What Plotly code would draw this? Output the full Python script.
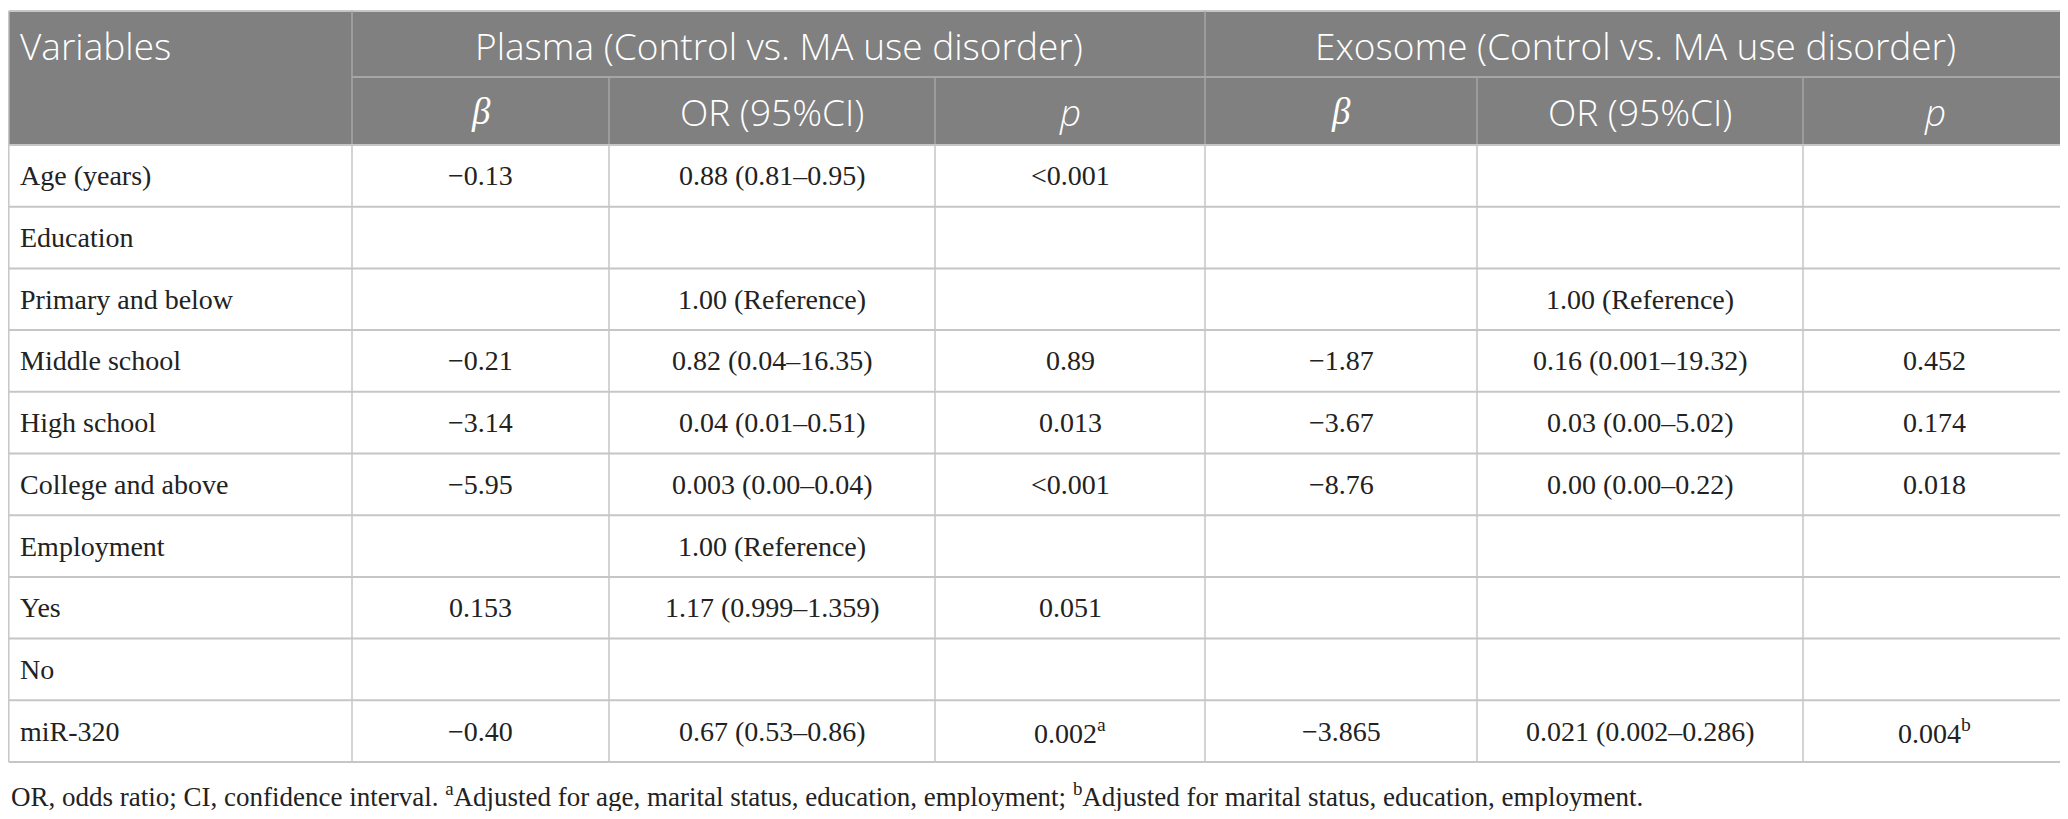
import plotly.graph_objects as go

# table content
variables = ["Age (years)", "Education", "Primary and below", "Middle school", "High school",
             "College and above", "Employment", "Yes", "No", "miR-320"]
plasma_beta = ["−0.13", "", "", "−0.21", "−3.14", "−5.95", "", "0.153", "", "−0.40"]
plasma_or = ["0.88 (0.81–0.95)", "", "1.00 (Reference)", "0.82 (0.04–16.35)", "0.04 (0.01–0.51)",
             "0.003 (0.00–0.04)", "1.00 (Reference)", "1.17 (0.999–1.359)", "", "0.67 (0.53–0.86)"]
plasma_p = ["<0.001", "", "", "0.89", "0.013", "<0.001", "", "0.051", "", "0.002<sup>a</sup>"]
exo_beta = ["", "", "", "−1.87", "−3.67", "−8.76", "", "", "", "−3.865"]
exo_or = ["", "", "1.00 (Reference)", "0.16 (0.001–19.32)", "0.03 (0.00–5.02)", "0.00 (0.00–0.22)",
          "", "", "", "0.021 (0.002–0.286)"]
exo_p = ["", "", "", "0.452", "0.174", "0.018", "", "", "", "0.004<sup>b</sup>"]

group_labels = ["Plasma (Control vs. MA use disorder)", "Exosome (Control vs. MA use disorder)"]
sub_labels = ["<i>β</i>", "OR (95%CI)", "<i>p</i>"]
first_header = "Variables"
footnote = ("OR, odds ratio; CI, confidence interval. <sup>a</sup>Adjusted for age, marital status, "
            "education, employment; <sup>b</sup>Adjusted for marital status, education, employment.")

columns = [variables, plasma_beta, plasma_or, plasma_p, exo_beta, exo_or, exo_p]

# layout (page pixels); the page body has an 8px margin, so the axes are shifted by it
W, H = 2068, 819
PAD = 8
col_edges = [8.8, 352, 609, 935, 1205, 1477, 1803, 2066]
head_top, head_mid, head_bot = 11, 77, 145
row_h = 61.7
n_rows = len(variables)
row_edges = [head_bot + i * row_h for i in range(n_rows + 1)]

HEAD_FILL = "#808080"
GRID = "#c6c6c6"
HEAD_GRID = "#a6a6a6"
SANS = "Open Sans"
SERIF = "Liberation Serif"
TXT = "#222222"

fig = go.Figure()
shapes = []
ann = []

# header background
shapes.append(dict(type="rect", x0=col_edges[0], x1=col_edges[-1], y0=head_top, y1=head_bot,
                   fillcolor=HEAD_FILL, line_width=0, layer="below"))
shapes.append(dict(type="line", x0=col_edges[0], x1=col_edges[-1], y0=head_top, y1=head_top,
                   line=dict(color=GRID, width=2)))
# header inner lines
shapes.append(dict(type="line", x0=col_edges[1], x1=col_edges[-1], y0=head_mid, y1=head_mid,
                   line=dict(color=HEAD_GRID, width=2)))
for i, x in enumerate(col_edges[1:-1], start=1):
    y0 = head_top if i in (1, 4) else head_mid
    shapes.append(dict(type="line", x0=x, x1=x, y0=y0, y1=head_bot,
                       line=dict(color=HEAD_GRID, width=1.5)))

# body grid
for y in row_edges:
    shapes.append(dict(type="line", x0=col_edges[0], x1=col_edges[-1], y0=y, y1=y,
                       line=dict(color=GRID, width=2)))
for x in col_edges:
    shapes.append(dict(type="line", x0=x, x1=x, y0=row_edges[0], y1=row_edges[-1],
                       line=dict(color=GRID, width=1.5)))
for x in (col_edges[0], col_edges[-1]):
    shapes.append(dict(type="line", x0=x, x1=x, y0=head_top, y1=head_bot,
                       line=dict(color=GRID, width=1.5)))

# header text
ann.append(dict(x=18, y=(head_top + head_mid) / 2 + 1, text=first_header,
                xanchor="left", font=dict(family=SANS, size=37, color="white", weight=300)))
for g, lab in enumerate(group_labels):
    x0, x1 = col_edges[1 + 3 * g], col_edges[4 + 3 * g]
    ann.append(dict(x=(x0 + x1) / 2, y=(head_top + head_mid) / 2 + 1, text=lab,
                    font=dict(family=SANS, size=37, color="white", weight=300)))
    for k, s in enumerate(sub_labels):
        c = 1 + 3 * g + k
        fam = SERIF if k == 0 else SANS
        ann.append(dict(x=(col_edges[c] + col_edges[c + 1]) / 2, y=(head_mid + head_bot) / 2,
                        text=s, font=dict(family=fam, size=37, color="white", weight=300)))

# body text
for c, col in enumerate(columns):
    for r, val in enumerate(col):
        if not val:
            continue
        yc = (row_edges[r] + row_edges[r + 1]) / 2
        if c == 0:
            ann.append(dict(x=18, y=yc, text=val, xanchor="left",
                            font=dict(family=SERIF, size=28, color=TXT)))
        else:
            ann.append(dict(x=(col_edges[c] + col_edges[c + 1]) / 2, y=yc, text=val,
                            font=dict(family=SERIF, size=28, color=TXT)))

ann.append(dict(x=PAD + 0.5, y=795, text=footnote, xanchor="left",
                font=dict(family=SERIF, size=27, color=TXT)))

for a in ann:
    a.update(xref="x", yref="y", showarrow=False)
    a.setdefault("xanchor", "center")
    a.setdefault("yanchor", "middle")

fig.update_layout(
    width=W - PAD, height=H - 2 * PAD,
    margin=dict(l=0, r=0, t=0, b=0),
    paper_bgcolor="white", plot_bgcolor="white",
    xaxis=dict(range=[PAD, W], visible=False, fixedrange=True),
    yaxis=dict(range=[H - PAD, PAD], visible=False, fixedrange=True),
    shapes=shapes, annotations=ann,
    showlegend=False,
)
fig.write_html("out.html")
